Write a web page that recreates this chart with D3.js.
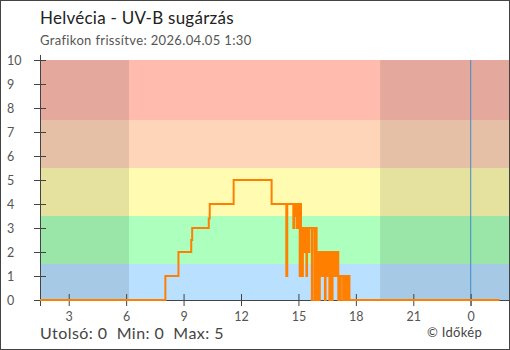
<!DOCTYPE html>
<html>
<head>
<meta charset="utf-8">
<script src="https://cdn.jsdelivr.net/npm/d3@7"></script>
<style>
  body { margin: 0; background: #fff; }
  svg { display: block; font-family: Lato, "Noto Sans", sans-serif; }
</style>
</head>
<body>
<div id="chart"></div>
<script>
'use strict';

// UV-B readings, Helvécia station
var times = [
  "2026-04-04 01:30", "2026-04-04 08:03", "2026-04-04 08:44", "2026-04-04 09:24", "2026-04-04 09:27",
  "2026-04-04 10:19", "2026-04-04 10:22", "2026-04-04 11:37", "2026-04-04 13:36", "2026-04-04 14:22",
  "2026-04-04 14:25", "2026-04-04 14:44", "2026-04-04 14:47", "2026-04-04 14:50", "2026-04-04 14:55",
  "2026-04-04 14:57", "2026-04-04 14:59", "2026-04-04 15:00", "2026-04-04 15:02", "2026-04-04 15:04",
  "2026-04-04 15:06", "2026-04-04 15:08", "2026-04-04 15:10", "2026-04-04 15:12", "2026-04-04 15:14",
  "2026-04-04 15:20", "2026-04-04 15:22", "2026-04-04 15:25", "2026-04-04 15:27", "2026-04-04 15:32",
  "2026-04-04 15:34", "2026-04-04 15:42", "2026-04-04 15:44", "2026-04-04 15:51", "2026-04-04 15:53",
  "2026-04-04 15:57", "2026-04-04 15:59", "2026-04-04 16:01", "2026-04-04 16:05", "2026-04-04 16:07",
  "2026-04-04 16:11", "2026-04-04 16:14", "2026-04-04 16:17", "2026-04-04 16:20", "2026-04-04 16:23",
  "2026-04-04 16:25", "2026-04-04 16:30", "2026-04-04 16:32", "2026-04-04 16:37", "2026-04-04 16:39",
  "2026-04-04 16:41", "2026-04-04 16:43", "2026-04-04 16:45", "2026-04-04 16:47", "2026-04-04 16:51",
  "2026-04-04 16:54", "2026-04-04 16:59", "2026-04-04 17:01", "2026-04-04 17:05", "2026-04-04 17:07",
  "2026-04-04 17:11", "2026-04-04 17:13", "2026-04-04 17:20", "2026-04-04 17:22", "2026-04-04 17:26",
  "2026-04-04 17:29", "2026-04-04 17:35", "2026-04-04 17:37", "2026-04-04 17:40", "2026-04-05 01:30"
];
var uvValues = [
  0, 1, 2, 2.5, 3,
  3.4, 4, 5, 4, 1,
  4, 3, 3.5, 4, 3,
  4, 3, 4, 3, 1,
  4, 1, 3, 1, 3,
  2, 3, 1, 3, 2,
  3, 0, 3, 0, 3,
  2, 0, 2, 0, 2,
  1, 2, 1, 2, 0,
  2, 1, 2, 0, 2,
  0, 2, 0, 2, 1,
  2, 1, 2, 0, 1,
  0, 1, 0, 1, 0,
  1, 0, 1, 0, 0
];

// UV index bands
var bandLimits = [0, 1.5, 3.5, 5.5, 7.5, 10];
var bandColors = ["#b9e0ff", "#acffbc", "#fffbb0", "#ffd5b9", "#ffbcae"];

var timeRange = ["2026-04-04 01:30", "2026-04-05 02:00"];
var sunrise = "2026-04-04 06:09";
var sunset = "2026-04-04 19:16";
var midnight = "2026-04-05 00:00";
var yTicks = [0, 1, 2, 3, 4, 5, 6, 7, 8, 9, 10];

var W = 510, H = 350;
var parse = d3.timeParse("%Y-%m-%d %H:%M");

var data = times.map(function (t, i) { return { t: parse(t), v: uvValues[i] }; });

var x = d3.scaleTime().domain(timeRange.map(parse)).range([40, 509]);
var y = d3.scaleLinear().domain([0, 10]).range([300, 60]);

var svg = d3.select("#chart").append("svg")
  .attr("width", W)
  .attr("height", H);

// colour bands
svg.selectAll("rect.band")
  .data(bandColors)
  .enter().append("rect")
  .attr("class", "band")
  .attr("x", x.range()[0])
  .attr("width", x.range()[1] - x.range()[0])
  .attr("y", function (c, i) { return y(bandLimits[i + 1]); })
  .attr("height", function (c, i) { return y(bandLimits[i]) - y(bandLimits[i + 1]); })
  .attr("fill", function (c) { return c; });

// night shading
var nights = [[x.domain()[0], parse(sunrise)], [parse(sunset), x.domain()[1]]];
svg.selectAll("rect.night")
  .data(nights)
  .enter().append("rect")
  .attr("class", "night")
  .attr("x", function (d) { return x(d[0]); })
  .attr("width", function (d) { return x(d[1]) - x(d[0]); })
  .attr("y", y(10))
  .attr("height", y(0) - y(10))
  .attr("fill", "#000")
  .attr("fill-opacity", 0.1);

// midnight marker
svg.append("line")
  .attr("x1", x(parse(midnight))).attr("x2", x(parse(midnight)))
  .attr("y1", y(10)).attr("y2", 306)
  .attr("stroke", "#3f8cc4")
  .attr("stroke-width", 1);

// axes
var axisColor = "#444";
var yAxis = svg.append("g")
  .attr("transform", "translate(40,0)")
  .call(d3.axisLeft(y).tickValues(yTicks).tickSize(6).tickFormat(d3.format("d")));
yAxis.select(".domain").remove();
yAxis.selectAll(".tick line").attr("x1", 6).attr("stroke", axisColor);
yAxis.selectAll(".tick text")
  .attr("x", -33)
  .attr("text-anchor", "start")
  .attr("font-size", 12.5)
  .attr("fill", "#555")
  .style("font-family", "Lato, sans-serif");
svg.append("line")
  .attr("x1", 40.5).attr("x2", 40.5)
  .attr("y1", 55).attr("y2", 306)
  .attr("stroke", axisColor);

var xAxis = svg.append("g")
  .attr("transform", "translate(0,300)")
  .call(d3.axisBottom(x).ticks(d3.timeHour.every(3)).tickSize(6).tickFormat(d3.timeFormat("%-H")));
xAxis.select(".domain").remove();
xAxis.selectAll(".tick line").attr("y1", -6).attr("stroke", axisColor);
xAxis.selectAll(".tick text")
  .attr("y", 12)
  .attr("font-size", 12.5)
  .attr("fill", "#555")
  .style("font-family", "Lato, sans-serif");
svg.append("line")
  .attr("x1", 34).attr("x2", 509)
  .attr("y1", 300.5).attr("y2", 300.5)
  .attr("stroke", axisColor);

// UV-B step line
var line = d3.line()
  .x(function (d) { return x(d.t); })
  .y(function (d) { return y(d.v); })
  .curve(d3.curveStepAfter);

svg.append("path")
  .datum(data)
  .attr("d", line)
  .attr("fill", "none")
  .attr("stroke", "#ff8000")
  .attr("stroke-width", 2);

// titles
svg.append("text")
  .attr("x", 40).attr("y", 24)
  .attr("font-size", 17)
  .attr("letter-spacing", 0.25)
  .attr("fill", "#222")
  .text("Helvécia - UV-B sugárzás");
svg.append("text")
  .attr("x", 40).attr("y", 45)
  .attr("font-size", 13)
  .attr("letter-spacing", 0.35)
  .attr("fill", "#555")
  .text("Grafikon frissítve: 2026.04.05 1:30");

// summary
var last = uvValues[uvValues.length - 1];
svg.append("text")
  .attr("x", 40).attr("y", 339)
  .attr("font-size", 16)
  .attr("letter-spacing", 0.45)
  .attr("fill", "#444")
  .attr("xml:space", "preserve")
  .text("Utolsó: " + last + "  Min: " + d3.min(uvValues) + "  Max: " + d3.max(uvValues));
svg.append("text")
  .attr("x", 482).attr("y", 337)
  .attr("text-anchor", "end")
  .attr("font-size", 13)
  .attr("letter-spacing", 0.3)
  .attr("fill", "#444")
  .text("© Időkép");

// frame
svg.append("rect")
  .attr("x", 0.5).attr("y", 0.5)
  .attr("width", W - 1).attr("height", H - 1)
  .attr("fill", "none")
  .attr("stroke", "#444")
  .attr("stroke-width", 1);
</script>
</body>
</html>
